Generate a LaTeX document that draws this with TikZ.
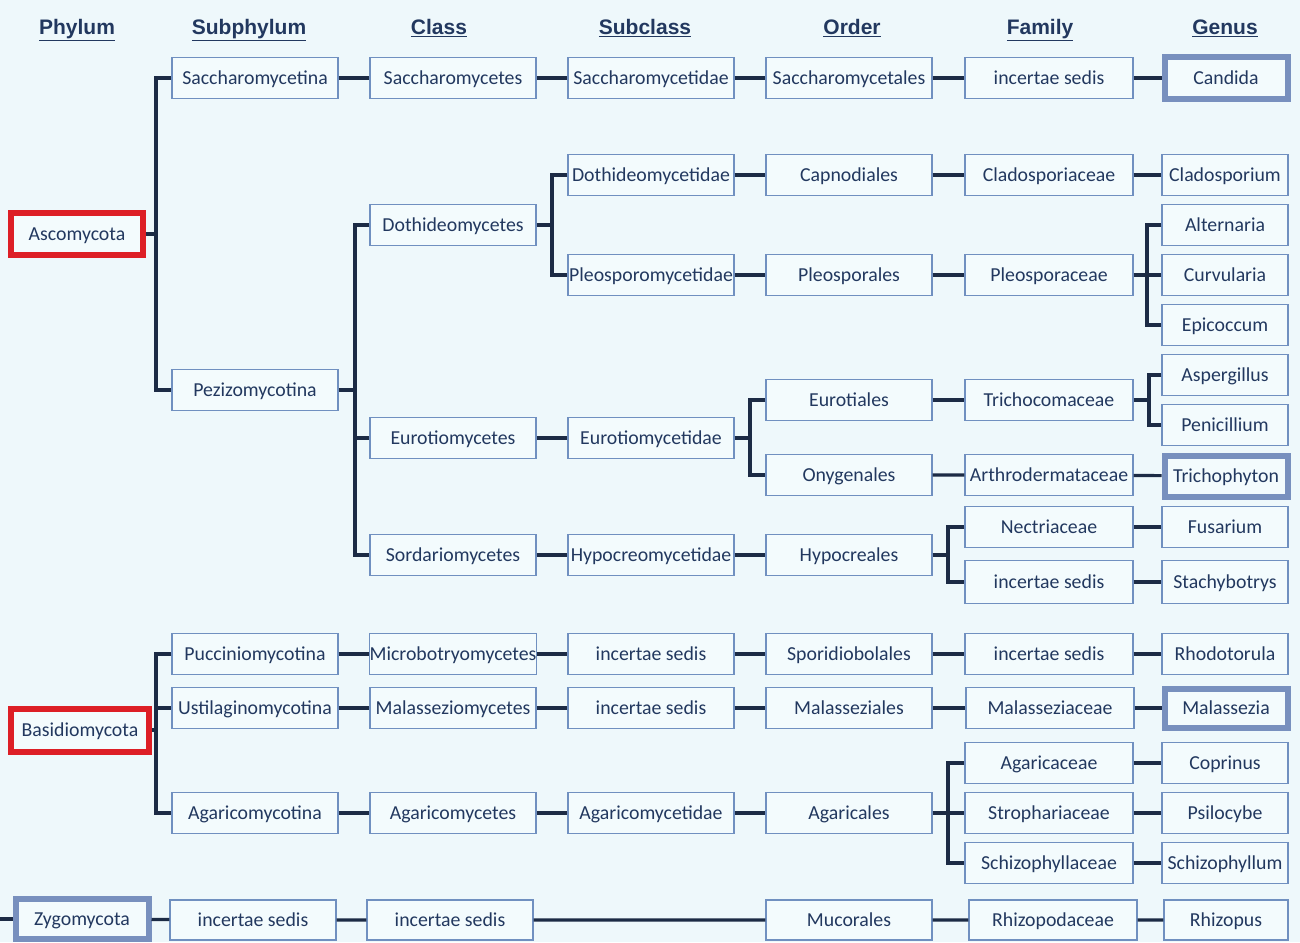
\documentclass[tikz,border=0pt]{standalone}
\usepackage{fontspec}
\newfontfamily\boxfont{Carlito}
\newfontfamily\headfont{Liberation Sans}
\definecolor{bg}{HTML}{EEF8FB}
\definecolor{boxfill}{HTML}{F3FBFD}
\definecolor{boxline}{HTML}{7090C0}
\definecolor{txt}{HTML}{22385F}
\definecolor{conn}{HTML}{1C2B45}
\definecolor{redline}{HTML}{DD1F26}
\definecolor{blueline}{HTML}{7890BE}
\tikzset{
  box/.style={draw=boxline, line width=1.2pt, fill=boxfill, text=txt,
    font=\boxfont\fontsize{19.8}{22}\selectfont, inner sep=0pt,
    text height=14pt, text depth=2pt,
    minimum width=166pt, minimum height=41pt},
  gbox/.style={box, minimum width=126pt},
  redbox/.style={box, draw=redline, line width=6pt},
  bluebox/.style={box, draw=blueline, line width=6pt},
  head/.style={text=txt, font=\headfont\bfseries\fontsize{21}{24}\selectfont,
    text height=16pt, text depth=5pt},
  link/.style={draw=conn, line width=3.2pt},
}
\begin{document}
\begin{tikzpicture}[x=1pt,y=-1pt]
\fill[bg] (0,0) rectangle (1300,942);
\useasboundingbox (0,0) rectangle (1300,942);

% column headings
\node[head] (hph) at (77,29) {\underline{Phylum}};
\node[head] (hsp) at (249,29) {\underline{Subphylum}};
\node[head] (hcl) at (439,29) {\underline{Class}};
\node[head] (hsc) at (645,29) {\underline{Subclass}};
\node[head] (hor) at (852,29) {\underline{Order}};
\node[head] (hfa) at (1040,29) {\underline{Family}};
\node[head] (hge) at (1225,29) {\underline{Genus}};

% phyla
\node[redbox, minimum width=132pt, minimum height=42pt] (asco) at (77,234) {Ascomycota};
\node[redbox, minimum width=138pt, minimum height=43pt] (basid) at (80,730) {Basidiomycota};
\node[bluebox, minimum width=133pt, minimum height=40pt] (zygo) at (82,919) {Zygomycota};

% subphyla
\node[box] (saccna) at (255,78) {Saccharomycetina};
\node[box] (pezi) at (255,390) {Pezizomycotina};
\node[box] (pucc) at (255,654) {Pucciniomycotina};
\node[box] (ustil) at (255,708) {Ustilaginomycotina};
\node[box] (agarna) at (255,813) {Agaricomycotina};
\node[box, minimum height=40pt] (zinc) at (253,920) {incertae sedis};

% classes
\node[box] (saccs) at (453,78) {Saccharomycetes};
\node[box] (doth) at (453,225) {Dothideomycetes};
\node[box] (euro) at (453,438) {Eurotiomycetes};
\node[box] (sord) at (453,555) {Sordariomycetes};
\node[box] (micro) at (453,654) {Microbotryomycetes};
\node[box] (malcl) at (453,708) {Malasseziomycetes};
\node[box] (agars) at (453,813) {Agaricomycetes};
\node[box, minimum height=40pt] (cinc) at (450,920) {incertae sedis};

% subclasses
\node[box] (saccdae) at (651,78) {Saccharomycetidae};
\node[box] (dothdae) at (651,175) {Dothideomycetidae};
\node[box] (pleodae) at (651,275) {Pleosporomycetidae};
\node[box] (eurodae) at (651,438) {Eurotiomycetidae};
\node[box] (hypdae) at (651,555) {Hypocreomycetidae};
\node[box] (scinca) at (651,654) {incertae sedis};
\node[box] (scincb) at (651,708) {incertae sedis};
\node[box] (agardae) at (651,813) {Agaricomycetidae};

% orders
\node[box] (saccales) at (849,78) {Saccharomycetales};
\node[box] (capno) at (849,175) {Capnodiales};
\node[box] (pleos) at (849,275) {Pleosporales};
\node[box] (eurot) at (849,400) {Eurotiales};
\node[box] (onyg) at (849,475) {Onygenales};
\node[box] (hypo) at (849,555) {Hypocreales};
\node[box] (spor) at (849,654) {Sporidiobolales};
\node[box] (malord) at (849,708) {Malasseziales};
\node[box] (agarales) at (849,813) {Agaricales};
\node[box, minimum height=40pt] (muco) at (849,920) {Mucorales};

% families
\node[box, minimum width=168pt] (finca) at (1049,78) {incertae sedis};
\node[box, minimum width=168pt] (clados) at (1049,175) {Cladosporiaceae};
\node[box, minimum width=168pt] (pleoac) at (1049,275) {Pleosporaceae};
\node[box, minimum width=168pt] (trich) at (1049,400) {Trichocomaceae};
\node[box, minimum width=168pt] (arthro) at (1049,475) {Arthrodermataceae};
\node[box, minimum width=168pt] (nectr) at (1049,527) {Nectriaceae};
\node[box, minimum width=168pt, minimum height=43pt] (fincb) at (1049,582) {incertae sedis};
\node[box, minimum width=168pt] (fincc) at (1049,654) {incertae sedis};
\node[box, minimum width=168pt] (malfam) at (1050,708) {Malasseziaceae};
\node[box, minimum width=168pt] (agarac) at (1049,763) {Agaricaceae};
\node[box, minimum width=168pt] (strop) at (1049,813) {Strophariaceae};
\node[box, minimum width=168pt] (schizac) at (1049,863) {Schizophyllaceae};
\node[box, minimum width=168pt, minimum height=40pt] (rhizac) at (1053,920) {Rhizopodaceae};

% genera
\node[bluebox, minimum width=123pt] (candida) at (1226,78) {Candida};
\node[gbox] (cladosp) at (1225,175) {Cladosporium};
\node[gbox] (altern) at (1225,225) {Alternaria};
\node[gbox] (curv) at (1225,275) {Curvularia};
\node[gbox] (epic) at (1225,325) {Epicoccum};
\node[gbox] (asperg) at (1225,375) {Aspergillus};
\node[gbox] (penic) at (1225,425) {Penicillium};
\node[bluebox, minimum width=123pt] (trichoph) at (1226,476) {Trichophyton};
\node[gbox] (fusar) at (1225,527) {Fusarium};
\node[gbox, minimum height=43pt] (stachy) at (1225,582) {Stachybotrys};
\node[gbox] (rhodo) at (1225,654) {Rhodotorula};
\node[bluebox, minimum width=123pt, minimum height=39pt] (malgen) at (1226,708) {Malassezia};
\node[gbox] (copr) at (1225,763) {Coprinus};
\node[gbox] (psilo) at (1225,813) {Psilocybe};
\node[gbox] (schizo) at (1225,863) {Schizophyllum};
\node[gbox, minimum width=124pt, minimum height=40pt] (rhizo) at (1226,920) {Rhizopus};

% junction columns of the brackets
\coordinate (jA) at (156,0);
\coordinate (jP) at (355,0);
\coordinate (jD) at (552,0);
\coordinate (jE) at (750,0);
\coordinate (jH) at (948,0);
\coordinate (jG) at (948,0);
\coordinate (jL) at (1147,0);
\coordinate (jT) at (1149,0);
\coordinate (edge) at (0,919);

\begin{scope}[link]
% straight chains
\draw (saccna) -- (saccs) -- (saccdae) -- (saccales) -- (finca) -- (candida);
\draw (dothdae) -- (capno) -- (clados) -- (cladosp);
\draw (pleodae) -- (pleos) -- (pleoac);
\draw (euro) -- (eurodae);
\draw (eurot) -- (trich);
\draw (onyg) -- (arthro) -- (trichoph);
\draw (sord) -- (hypdae) -- (hypo);
\draw (nectr) -- (fusar);
\draw (fincb) -- (stachy);
\draw (pucc) -- (micro) -- (scinca) -- (spor) -- (fincc) -- (rhodo);
\draw (ustil) -- (malcl) -- (scincb) -- (malord) -- (malfam) -- (malgen);
\draw (agarna) -- (agars) -- (agardae) -- (agarales);
\draw (agarac) -- (copr);
\draw (strop) -- (psilo);
\draw (schizac) -- (schizo);
\draw (edge) -- (zygo);
\draw (zygo) -- (zinc) -- (cinc) -- (muco) -- (rhizac) -- (rhizo);

% brackets
\draw (asco.east) -- (jA |- asco.east);
\draw (saccna.west) -| (jA |- pezi.west) -- (pezi.west);

\draw (pezi.east) -- (jP |- pezi.east);
\draw (doth.west) -| (jP |- sord.west) -- (sord.west);
\draw (jP |- euro.west) -- (euro.west);

\draw (doth.east) -- (jD |- doth.east);
\draw (dothdae.west) -| (jD |- pleodae.west) -- (pleodae.west);

\draw (eurodae.east) -- (jE |- eurodae.east);
\draw (eurot.west) -| (jE |- onyg.west) -- (onyg.west);

\draw (hypo.east) -- (jH |- hypo.east);
\draw (nectr.west) -| (jH |- fincb.west) -- (fincb.west);

\draw (pleoac.east) -- (jL |- pleoac.east);
\draw (altern.west) -| (jL |- epic.west) -- (epic.west);
\draw (jL |- curv.west) -- (curv.west);

\draw (trich.east) -- (jT |- trich.east);
\draw (asperg.west) -| (jT |- penic.west) -- (penic.west);

\draw (basid.east) -- (jA |- basid.east);
\draw (pucc.west) -| (jA |- agarna.west) -- (agarna.west);
\draw (jA |- ustil.west) -- (ustil.west);

\draw (agarales.east) -- (jG |- agarales.east);
\draw (agarac.west) -| (jG |- schizac.west) -- (schizac.west);
\draw (jG |- strop.west) -- (strop.west);
\end{scope}
\end{tikzpicture}
\end{document}
